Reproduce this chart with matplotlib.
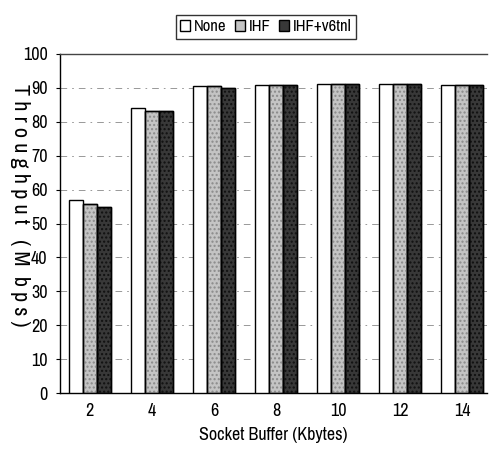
import matplotlib
matplotlib.use("Agg")
import matplotlib.pyplot as plt
import numpy as np

plt.rcParams['font.family'] = ['Archivo Narrow', 'Roboto Condensed', 'DejaVu Sans']

categories = ['2', '4', '6', '8', '10', '12', '14']
series_names = ['None', 'IHF', 'IHF+v6tnl']
none_vals = [57.0, 84.1, 90.5, 90.8, 91.2, 91.2, 90.9]
ihf_vals = [55.7, 83.3, 90.5, 90.8, 91.2, 91.2, 90.9]
v6_vals = [54.9, 83.3, 90.0, 90.8, 91.2, 91.2, 90.9]
yticks = [0, 10, 20, 30, 40, 50, 60, 70, 80, 90, 100]

fig = plt.figure(figsize=(4.91, 4.49), dpi=100)
ax = fig.add_axes([60/491, 1-393/449, (487-60)/491, (393-54)/449])

x = np.arange(len(categories))
w = 0.225
colors = ['white', '#c4c4c4', '#383838']
hatches = [None, '....', '....']
hcols = [None, '#8a8a8a', '#101010']
for i, (vals, name) in enumerate(zip([none_vals, ihf_vals, v6_vals], series_names)):
    pos = x + (i - 1) * w
    ax.bar(pos, vals, w, color=colors[i], edgecolor='black', linewidth=1.0, label=name, zorder=3)
    if hatches[i]:
        ax.bar(pos, vals, w, color='none', edgecolor=hcols[i], hatch=hatches[i], linewidth=0, zorder=3.5)
        ax.bar(pos, vals, w, color='none', edgecolor='black', linewidth=1.0, zorder=4)

ax.set_ylim(0, 100)
ax.set_xlim(-0.48, 6.4)
ax.set_yticks(yticks)
ax.set_xticks(x)
ax.set_xticklabels(categories)
ax.tick_params(axis='both', labelsize=13, length=3, width=0.8)
ax.tick_params(axis='y', pad=6)
ax.tick_params(axis='x', length=0, pad=7)
for yv in yticks[1:-1]:
    ax.axhline(yv, color='#888888', linewidth=0.6, linestyle=(0, (8, 6, 2, 6)), zorder=1)

ax.spines['right'].set_visible(False)
for s in ['left', 'top', 'bottom']:
    ax.spines[s].set_linewidth(1.0)
ax.spines['top'].set_color('#444444')

ax.set_xlabel('Socket Buffer (Kbytes)', fontsize=13, labelpad=6)
fig.text(20/491, 1-205/449, 'T h r o u g h p u t   ( M  b p s )', rotation=270,
         ha='center', va='center', fontsize=16)

leg = ax.legend(loc='upper center', bbox_to_anchor=(266/491, 1-7/449), bbox_transform=fig.transFigure,
                ncol=3, fontsize=12, frameon=True, fancybox=False, edgecolor='black',
                handlelength=0.6, handleheight=0.6, handletextpad=0.25, columnspacing=0.5,
                borderpad=0.25)
leg.get_frame().set_linewidth(1.0)

fig.savefig('out.png', dpi=100)
